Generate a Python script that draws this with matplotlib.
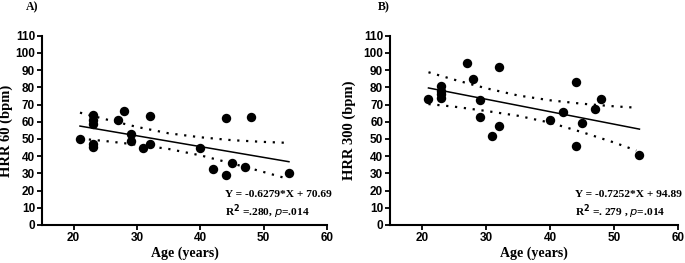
import numpy as np
from matplotlib import pyplot as plt

# panel A: HRR 60 vs age
age_a = [21, 23, 23, 23, 23, 23, 27, 28, 29, 29, 31, 32, 32, 40, 42, 44, 44, 45, 47, 48, 54]
hrr60 = [50, 64, 61.2, 58.5, 47.3, 45.4, 61.2, 66.2, 52.7, 48.8, 45, 63.3, 46.9, 45, 32.4, 62.4, 29.1, 36.3, 33.8, 62.9, 30.3]

# panel B: HRR 300 vs age
age_b = [21, 23, 23, 23, 23, 27, 28, 29, 29, 31, 32, 32, 40, 42, 44, 44, 45, 47, 48, 54]
hrr300 = [73.5, 80.7, 78.1, 76.2, 73.6, 94, 85, 72.8, 62.9, 51.7, 92.1, 57.3, 60.8, 65.4, 83, 46.1, 59.5, 67.7, 73.5, 40.7]

# regression (slope, intercept) as printed
fit_a = (-0.6279, 70.69)
fit_b = (-0.7252, 94.89)
fit_x = [21, 54]

# 95% confidence band
band_x = [21, 25, 30, 35, 40, 45, 50, 53.5]
upper_a = [65.3, 61.5, 57.0, 53.3, 51.0, 49.3, 48.3, 47.8]
lower_a = [50.2, 48.8, 46.7, 44.2, 40.5, 35.8, 30.8, 27.2]
upper_b = [88.8, 84.5, 79.5, 75.3, 72.5, 70.5, 69.0, 68.2]
lower_b = [70.3, 68.8, 66.3, 63.5, 59.5, 54.0, 48.0, 43.3]

sans = 'Liberation Sans'
serif = 'Liberation Serif'


def panel(ax, x, y, fit, up, lo, ylab, labx, tag, tagx, eq, r2):
    ax.scatter(x, y, s=46, color='black', zorder=3, linewidths=0)
    fx = np.array(fit_x, dtype=float)
    ax.plot(fx, fit[0] * fx + fit[1], color='black', lw=1.1)
    ax.plot(band_x, up, color='black', lw=1.6, ls=(0, (1, 3)))
    ax.plot(band_x, lo, color='black', lw=1.6, ls=(0, (1, 3)))

    ax.set_xlim(15, 60)
    ax.set_ylim(0, 110)
    ax.set_xticks([20, 30, 40, 50, 60])
    ax.set_yticks(np.arange(0, 111, 10))
    for s in ['top', 'right']:
        ax.spines[s].set_visible(False)
    for s in ['left', 'bottom']:
        ax.spines[s].set_linewidth(1.5)
    ax.tick_params(width=1.3, length=3.5, pad=1.5)
    for lab in ax.get_xticklabels() + ax.get_yticklabels():
        lab.set_fontfamily(sans)
        lab.set_fontweight('bold')
        lab.set_fontsize(8.5)

    ax.set_xlabel('Age (years)', fontfamily=serif, fontweight='bold', fontsize=10, labelpad=2)
    ax.set_ylabel(ylab, fontfamily=serif, fontweight='bold', fontsize=10.5)
    ax.yaxis.set_label_coords(labx, 0.5)

    ax.text(43.9, 18, eq, fontfamily=serif, fontweight='bold', fontsize=8.2, va='center')
    ax.text(43.9, 8, r2, fontfamily=serif, fontweight='bold', fontsize=8.2, va='center')
    ax.text(tagx, 1.153, tag, transform=ax.transAxes, fontfamily=serif,
            fontweight='bold', fontsize=8.5, va='center', ha='center')


fig = plt.figure(figsize=(6.85, 2.63), dpi=100)
ax1 = fig.add_axes([0.0613, 0.1445, 0.416, 0.7195])
ax2 = fig.add_axes([0.5695, 0.1445, 0.420, 0.7195])

panel(ax1, age_a, hrr60, fit_a, upper_a, lower_a, 'HRR 60 (bpm)', -0.10, 'A)', -0.034,
      'Y = -0.6279*X + 70.69', r'R$^{\mathbf{2}}$ =.280, $\mathit{p}$=.014')
panel(ax2, age_b, hrr300, fit_b, upper_b, lower_b, 'HRR 300 (bpm)', -0.12, 'B)', -0.023,
      'Y = -0.7252*X + 94.89', r'R$^{\mathbf{2}}$ =. 279 , $\mathit{p}$=.014')

fig.savefig('out.png', dpi=100)
